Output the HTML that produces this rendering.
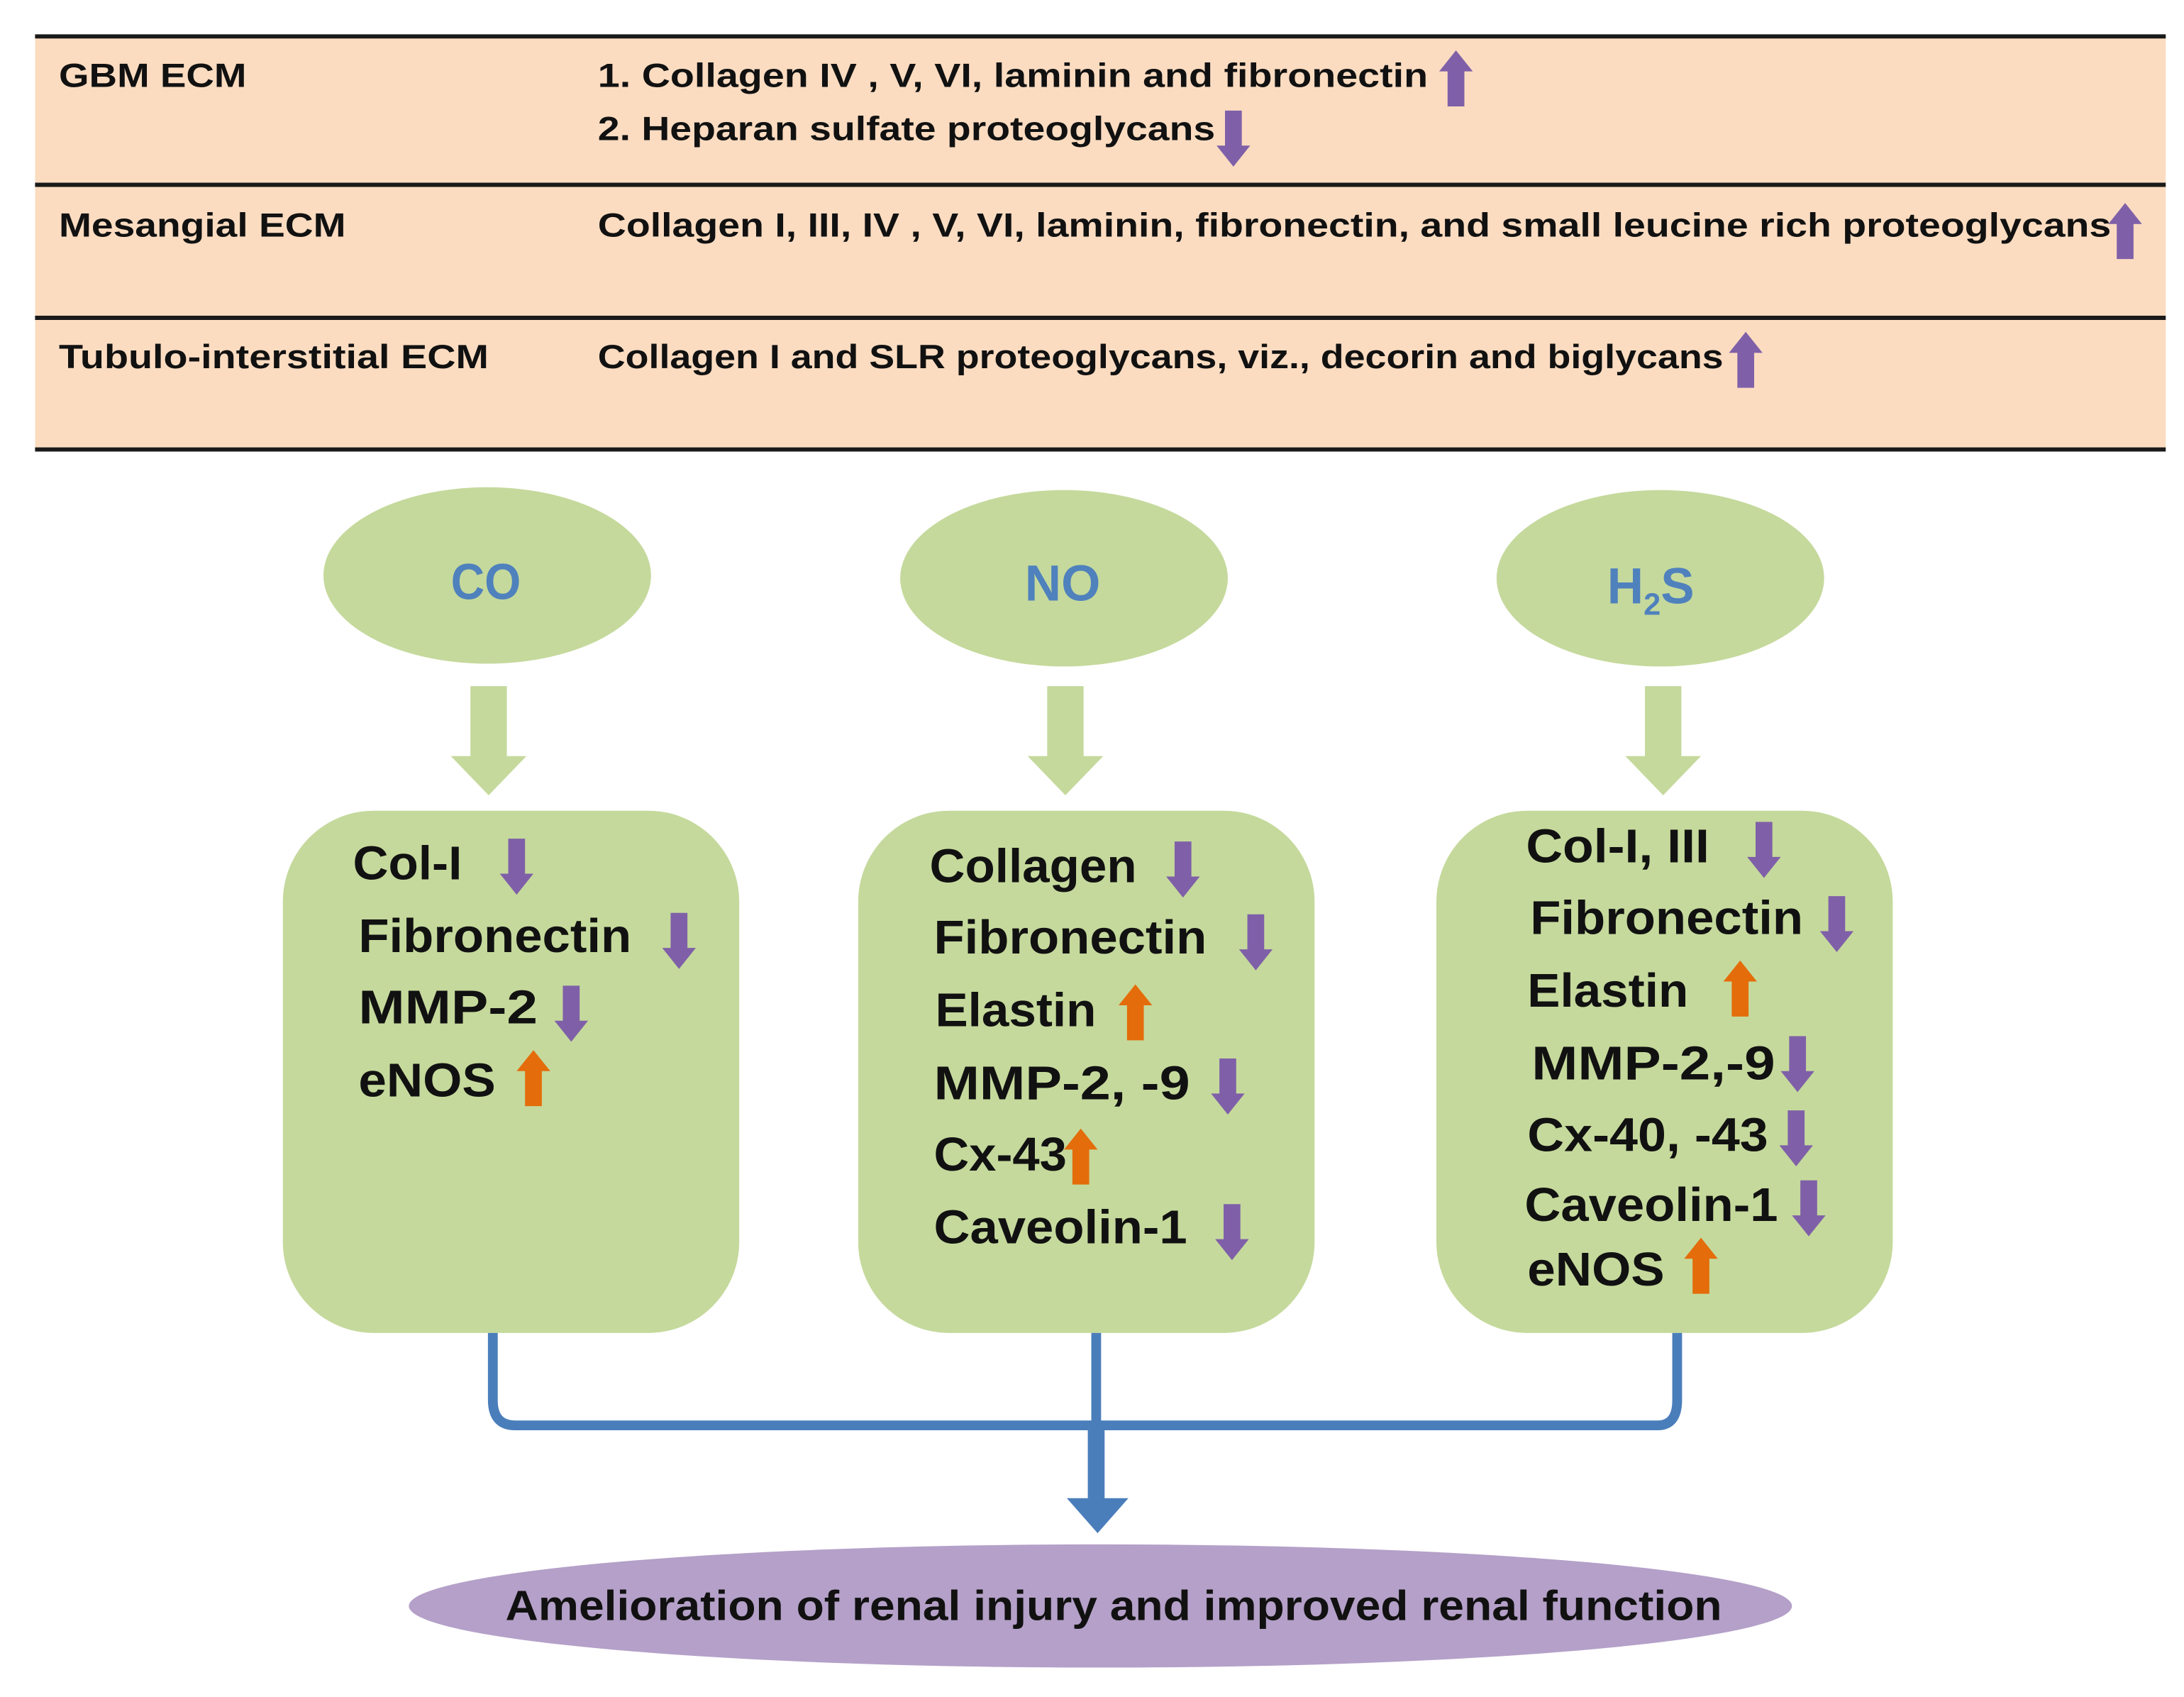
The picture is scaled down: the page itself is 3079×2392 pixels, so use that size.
<!DOCTYPE html>
<html><head><meta charset="utf-8"><style>
html,body{margin:0;padding:0;background:#fff;}
svg{display:block;}
text{font-family:"Liberation Sans",sans-serif;font-weight:bold;}
</style></head><body>
<svg width="3079" height="2392" viewBox="0 0 1560 1212" xmlns="http://www.w3.org/2000/svg">
<defs>
<path id="dn" d="M-6 0H6V25H12L0 40L-12 25H-6Z" fill="#7f60a8"/>
<path id="up" d="M0 0L12 15H6V40H-6V15H-12Z" fill="#7f60a8"/>
<path id="upo" d="M0 0L12 15H6V40H-6V15H-12Z" fill="#e46c0a"/>
</defs>
<rect width="1560" height="1212" fill="#fff"/>
<!-- table -->
<rect x="25" y="25" width="1522" height="296" fill="#fbdcc1"/>
<g stroke="#1a1a1a" stroke-width="3">
<line x1="25" y1="26" x2="1547" y2="26"/>
<line x1="25" y1="132" x2="1547" y2="132"/>
<line x1="25" y1="227" x2="1547" y2="227"/>
<line x1="25" y1="321" x2="1547" y2="321"/>
</g>
<g font-size="24" fill="#111">
<text x="42" y="62" textLength="134" lengthAdjust="spacingAndGlyphs">GBM ECM</text>
<text x="427" y="62" textLength="593" lengthAdjust="spacingAndGlyphs">1. Collagen IV , V, VI, laminin and fibronectin</text>
<text x="427" y="100" textLength="441" lengthAdjust="spacingAndGlyphs">2. Heparan sulfate proteoglycans</text>
<text x="42" y="169" textLength="205" lengthAdjust="spacingAndGlyphs">Mesangial ECM</text>
<text x="427" y="169" textLength="1081" lengthAdjust="spacingAndGlyphs">Collagen I, III, IV , V, VI, laminin, fibronectin, and small leucine rich proteoglycans</text>
<text x="42" y="263" textLength="307" lengthAdjust="spacingAndGlyphs">Tubulo-interstitial ECM</text>
<text x="427" y="263" textLength="804" lengthAdjust="spacingAndGlyphs">Collagen I and SLR proteoglycans, viz., decorin and biglycans</text>
</g>
<use href="#up" x="1040" y="36"/>
<use href="#dn" x="881" y="79"/>
<use href="#up" x="1518" y="145"/>
<use href="#up" x="1247" y="237"/>
<!-- ellipses -->
<g fill="#c5d99c">
<ellipse cx="348" cy="411" rx="117" ry="63"/>
<ellipse cx="760" cy="413" rx="117" ry="63"/>
<ellipse cx="1186" cy="413" rx="117" ry="63"/>
<path d="M336 490H362V540H376L349 568L322 540H336Z"/>
<path d="M748 490H774V540H788L761 568L734 540H748Z"/>
<path d="M1175 490H1201V540H1215L1188 568L1161 540H1175Z"/>
<rect x="202" y="579" width="326" height="373" rx="65"/>
<rect x="613" y="579" width="326" height="373" rx="65"/>
<rect x="1026" y="579" width="326" height="373" rx="65"/>
</g>
<g font-size="36" fill="#4f81bd" font-weight="normal">
<text x="322" y="428" textLength="50" lengthAdjust="spacingAndGlyphs">CO</text>
<text x="732" y="429" textLength="54" lengthAdjust="spacingAndGlyphs">NO</text>
<text x="1148" y="431" fill="#4f81bd">H<tspan font-size="22" dy="8">2</tspan><tspan dy="-8">S</tspan></text>
</g>
<!-- box text -->
<g font-size="34" fill="#111">
<text x="252" y="628" textLength="78" lengthAdjust="spacingAndGlyphs">Col-I</text>
<text x="256" y="680" textLength="195" lengthAdjust="spacingAndGlyphs">Fibronectin</text>
<text x="256" y="731" textLength="128" lengthAdjust="spacingAndGlyphs">MMP-2</text>
<text x="256" y="783" textLength="98" lengthAdjust="spacingAndGlyphs">eNOS</text>

<text x="664" y="630" textLength="148" lengthAdjust="spacingAndGlyphs">Collagen</text>
<text x="667" y="681" textLength="195" lengthAdjust="spacingAndGlyphs">Fibronectin</text>
<text x="668" y="733" textLength="115" lengthAdjust="spacingAndGlyphs">Elastin</text>
<text x="667" y="785" textLength="183" lengthAdjust="spacingAndGlyphs">MMP-2, -9</text>
<text x="667" y="836" textLength="95" lengthAdjust="spacingAndGlyphs">Cx-43</text>
<text x="667" y="888" textLength="181" lengthAdjust="spacingAndGlyphs">Caveolin-1</text>

<text x="1090" y="616" textLength="131" lengthAdjust="spacingAndGlyphs">Col-I, III</text>
<text x="1093" y="667" textLength="195" lengthAdjust="spacingAndGlyphs">Fibronectin</text>
<text x="1091" y="719" textLength="115" lengthAdjust="spacingAndGlyphs">Elastin</text>
<text x="1094" y="771" textLength="174" lengthAdjust="spacingAndGlyphs">MMP-2,-9</text>
<text x="1091" y="822" textLength="172" lengthAdjust="spacingAndGlyphs">Cx-40, -43</text>
<text x="1089" y="872" textLength="181" lengthAdjust="spacingAndGlyphs">Caveolin-1</text>
<text x="1091" y="918" textLength="98" lengthAdjust="spacingAndGlyphs">eNOS</text>
</g>
<use href="#dn" x="369" y="599"/>
<use href="#dn" x="485" y="652"/>
<use href="#dn" x="408" y="704"/>
<use href="#upo" x="381" y="750"/>
<use href="#dn" x="845" y="601"/>
<use href="#dn" x="897" y="653"/>
<use href="#upo" x="811" y="703"/>
<use href="#dn" x="877" y="756"/>
<use href="#upo" x="772" y="806"/>
<use href="#dn" x="880" y="860"/>
<use href="#dn" x="1260" y="587"/>
<use href="#dn" x="1312" y="640"/>
<use href="#upo" x="1243" y="686"/>
<use href="#dn" x="1284" y="740"/>
<use href="#dn" x="1283" y="793"/>
<use href="#dn" x="1292" y="843"/>
<use href="#upo" x="1215" y="884"/>
<!-- connectors -->
<g fill="none" stroke="#4a7ebb" stroke-width="7">
<path d="M352 952V1000Q352 1018 368 1018H1184Q1198 1018 1198 1000V952"/>
<line x1="783" y1="952" x2="783" y2="1020"/>
</g>
<path d="M777 1018H789V1070H806L784 1095L762 1070H777Z" fill="#4a7ebb"/>
<ellipse cx="786" cy="1147" rx="494" ry="44" fill="#b4a0c8"/>
<text x="361" y="1157" font-size="30" fill="#111" textLength="869" lengthAdjust="spacingAndGlyphs">Amelioration of renal injury and improved renal function</text>
</svg>
</body></html>
